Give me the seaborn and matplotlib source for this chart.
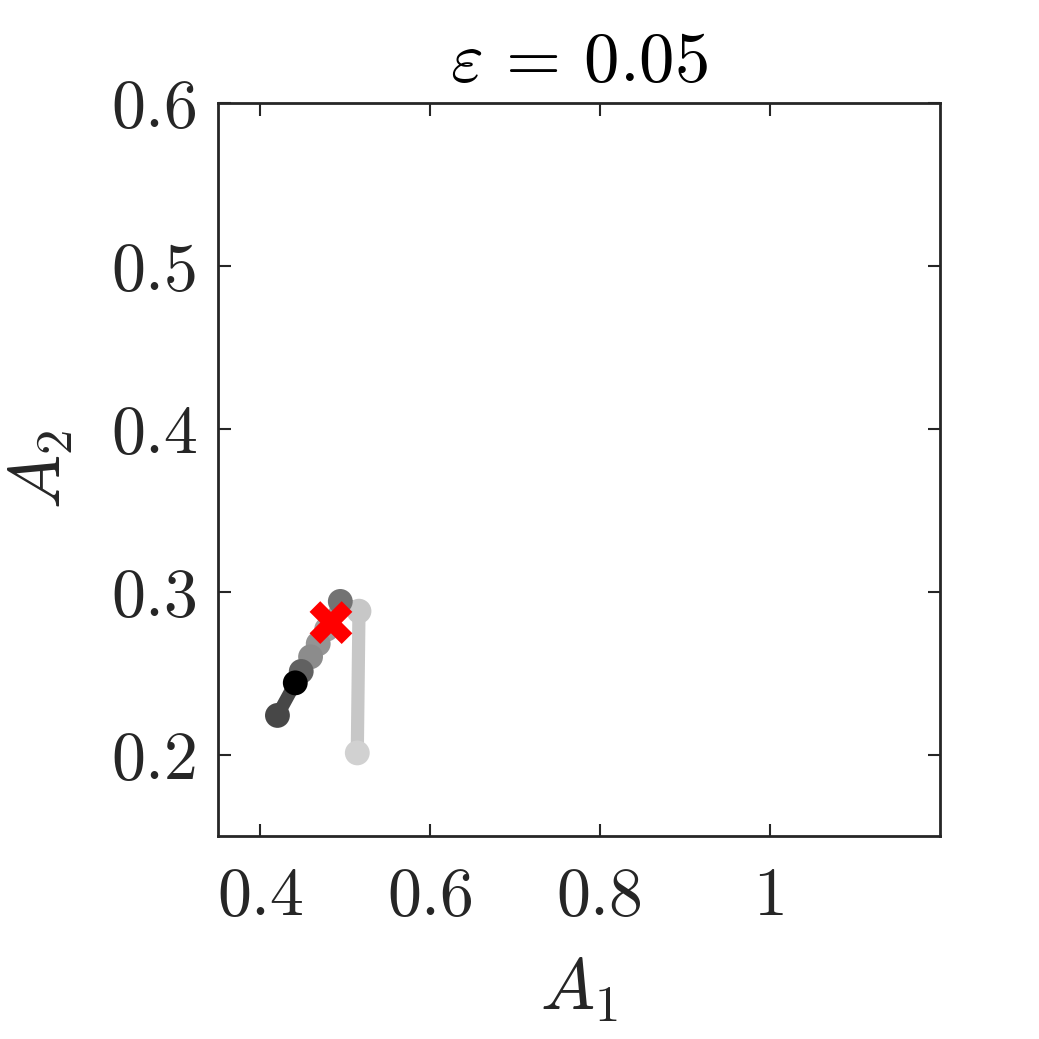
import matplotlib
matplotlib.use("Agg")
import matplotlib.pyplot as plt
import seaborn as sns
import pandas as pd

sns.set_theme(style="white")
plt.rcParams['font.family'] = ['cmr10', 'DejaVu Serif']
plt.rcParams['mathtext.fontset'] = 'cm'
plt.rcParams['axes.unicode_minus'] = False

# trajectory (in order), with gray level per point
A1 = [0.514, 0.516, 0.494, 0.478, 0.468, 0.459, 0.448, 0.441, 0.420]
A2 = [0.201, 0.288, 0.294, 0.277, 0.268, 0.260, 0.251, 0.244, 0.224]
gray = [0.82, 0.78, 0.45, 0.62, 0.58, 0.55, 0.38, 0.0, 0.28]
fixed_A1 = [0.483]
fixed_A2 = [0.281]

xticks = [0.4, 0.6, 0.8, 1.0]
xticklabels = ["0.4", "0.6", "0.8", "1"]
yticks = [0.2, 0.3, 0.4, 0.5, 0.6]
yticklabels = ["0.2", "0.3", "0.4", "0.5", "0.6"]

df = pd.DataFrame({"A1": A1, "A2": A2, "g": gray, "idx": range(len(A1))})

fig = plt.figure(figsize=(10.39, 10.39), dpi=100)
ax = fig.add_axes([0.2098, 0.1954, 0.6949, 0.7055])

for i in range(len(A1) - 1):
    seg = df.iloc[i:i + 2]
    c = str(gray[i + 1])
    sns.lineplot(data=seg, x="A1", y="A2", sort=False, color=c, lw=9.5,
                 ax=ax, legend=False, solid_capstyle="round")
pal = {i: str(g) for i, g in enumerate(gray)}
sns.scatterplot(data=df, x="A1", y="A2", hue="idx", palette=pal, s=320,
                edgecolor="none", ax=ax, legend=False, zorder=3)
sns.scatterplot(x=fixed_A1, y=fixed_A2, marker="X", color="#ff0000", s=950,
                edgecolor="none", ax=ax, legend=False, zorder=4)

ax.set_xlim(0.35, 1.2)
ax.set_ylim(0.15, 0.6)
ax.set_xticks(xticks)
ax.set_xticklabels(xticklabels)
ax.set_yticks(yticks)
ax.set_yticklabels(yticklabels)
ax.tick_params(direction="in", length=9, width=1.5, labelsize=49, pad=14,
               colors="#262626", top=True, right=True, bottom=True, left=True)
ax.tick_params(axis="x", pad=22)
for lab in ax.get_xticklabels() + ax.get_yticklabels():
    lab.set_color("#262626")
for sp in ax.spines.values():
    sp.set_color("#262626")
    sp.set_linewidth(2)
ax.set_xlabel(r"$A_1$", fontsize=52, color="#262626", labelpad=20)
ax.set_ylabel(r"$A_2$", fontsize=52, color="#262626", labelpad=26)
ax.set_title(r"$\varepsilon\, =\, 0.05$", fontsize=51, color="black", pad=16)

fig.savefig("out.png", dpi=100, facecolor="white")
